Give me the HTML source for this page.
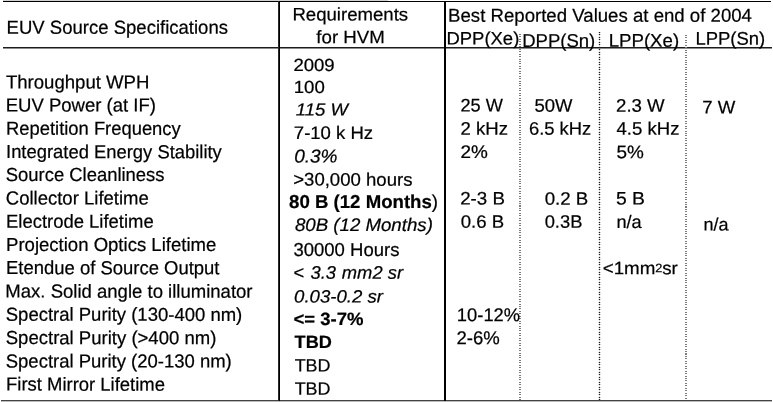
<!DOCTYPE html>
<html><head><meta charset="utf-8"><title>EUV Source Specifications</title>
<style>
html,body{margin:0;padding:0;background:#fff;}
body{width:773px;height:402px;position:relative;overflow:hidden;font-family:"Liberation Sans",sans-serif;color:#000;filter:grayscale(1);}
.t{position:absolute;left:0;top:0;white-space:nowrap;line-height:20px;transform-origin:0 0;-webkit-text-stroke:0.22px #000;}
.sup{font-size:0.68em;position:relative;top:-0.2em;margin:0 -0.02em 0 0;}
.ln{position:absolute;}
</style></head><body>

<div class="ln" style="left:3px;top:0px;width:385px;height:1px;background:#d2d2d2"></div>
<div class="ln" style="left:3px;top:1px;width:768px;height:1px;background:#000"></div>
<div class="ln" style="left:3px;top:47px;width:769px;height:1px;background:#1c1c1c"></div>
<div class="ln" style="left:3px;top:48px;width:769px;height:1px;background:#8c8c8c"></div>
<div class="ln" style="left:1px;top:400px;width:771px;height:1px;background:#444"></div>
<div class="ln" style="left:1px;top:401px;width:771px;height:1px;background:#bbb"></div>
<div class="ln" style="left:278px;top:1px;width:1px;height:400px;background:#2a2a2a"></div>
<div class="ln" style="left:279px;top:1px;width:1px;height:400px;background:#000"></div>
<div class="ln" style="left:444px;top:1px;width:1px;height:400px;background:#000"></div>
<div class="ln" style="left:445px;top:1px;width:1px;height:400px;background:#000"></div>
<div class="ln" style="left:519px;top:34px;width:2px;height:366px;background:repeating-linear-gradient(to bottom,#7a7a7a 0,#7a7a7a 1.0px,rgba(255,255,255,0) 1.0px,rgba(255,255,255,0) 2.45px)"></div>
<div class="ln" style="left:599px;top:32px;width:1px;height:368px;background:rgba(0,0,0,0.13)"></div>
<div class="ln" style="left:599px;top:32px;width:1px;height:368px;background:repeating-linear-gradient(to bottom,#222 0,#222 1.0px,rgba(255,255,255,0) 1.0px,rgba(255,255,255,0) 2.5px)"></div>
<div class="ln" style="left:598px;top:32px;width:3px;height:368px;background:repeating-linear-gradient(to bottom,rgba(0,0,0,0.18) 0,rgba(0,0,0,0.18) 1.0px,rgba(255,255,255,0) 1.0px,rgba(255,255,255,0) 2.5px)"></div>
<div class="ln" style="left:685px;top:34.5px;width:2px;height:365.5px;background:repeating-linear-gradient(to bottom,#7c7c7c 0,#7c7c7c 1.0px,rgba(255,255,255,0) 1.0px,rgba(255,255,255,0) 2.45px)"></div>
<div class="t" id="t0" style="font-size:18.9px;transform:translate(6.63px,17.70px) rotate(0.03deg) scaleX(0.9806)">EUV Source Specifications</div>
<div class="t" id="t1" style="font-size:18.9px;transform:translate(5.95px,72.50px) rotate(0.03deg) scaleX(0.9830)">Throughput WPH</div>
<div class="t" id="t2" style="font-size:18.9px;transform:translate(5.73px,95.50px) rotate(0.03deg) scaleX(0.9804)">EUV Power (at IF)</div>
<div class="t" id="t3" style="font-size:18.9px;transform:translate(6.04px,118.80px) rotate(0.03deg) scaleX(0.9728)">Repetition Frequency</div>
<div class="t" id="t4" style="font-size:18.9px;transform:translate(6.04px,142.10px) rotate(0.03deg) scaleX(0.9739)">Integrated Energy Stability</div>
<div class="t" id="t5" style="font-size:18.9px;transform:translate(5.77px,164.90px) rotate(0.03deg) scaleX(0.9752)">Source Cleanliness</div>
<div class="t" id="t6" style="font-size:18.9px;transform:translate(5.76px,188.50px) rotate(0.03deg) scaleX(0.9806)">Collector Lifetime</div>
<div class="t" id="t7" style="font-size:18.9px;transform:translate(6.04px,211.80px) rotate(0.03deg) scaleX(0.9765)">Electrode Lifetime</div>
<div class="t" id="t8" style="font-size:18.9px;transform:translate(6.03px,234.90px) rotate(0.03deg) scaleX(0.9816)">Projection Optics Lifetime</div>
<div class="t" id="t9" style="font-size:18.9px;transform:translate(6.03px,258.10px) rotate(0.03deg) scaleX(0.9770)">Etendue of Source Output</div>
<div class="t" id="t10" style="font-size:18.9px;transform:translate(5.33px,281.60px) rotate(0.03deg) scaleX(0.9810)">Max. Solid angle to illuminator</div>
<div class="t" id="t11" style="font-size:18.9px;transform:translate(5.77px,304.80px) rotate(0.03deg) scaleX(0.9794)">Spectral Purity (130-400 nm)</div>
<div class="t" id="t12" style="font-size:18.9px;transform:translate(5.76px,328.10px) rotate(0.03deg) scaleX(0.9808)">Spectral Purity (&gt;400 nm)</div>
<div class="t" id="t13" style="font-size:18.9px;transform:translate(5.77px,351.40px) rotate(0.03deg) scaleX(0.9784)">Spectral Purity (20-130 nm)</div>
<div class="t" id="t14" style="font-size:18.9px;transform:translate(6.03px,374.60px) rotate(0.03deg) scaleX(0.9769)">First Mirror Lifetime</div>
<div class="t" id="t15" style="font-size:18.2px;transform:translate(292.42px,4.41px) rotate(0.03deg) scaleX(1.0220)">Requirements</div>
<div class="t" id="t16" style="font-size:18.2px;transform:translate(316.34px,27.31px) rotate(0.03deg) scaleX(1.0277)">for HVM</div>
<div class="t" id="t17" style="font-size:17.6px;transform:translate(293.41px,55.01px) rotate(0.03deg) scaleX(1.0543)">2009</div>
<div class="t" id="t18" style="font-size:17.6px;transform:translate(293.68px,76.91px) rotate(0.03deg) scaleX(1.0582)">100</div>
<div class="t" id="t19" style="font-size:17.4px;font-style:italic;transform:translate(295.73px,99.56px) rotate(0.03deg) scaleX(1.0667)">115 W</div>
<div class="t" id="t20" style="font-size:18.2px;transform:translate(293.84px,122.91px) rotate(0.03deg) scaleX(1.0190)">7-10 k Hz</div>
<div class="t" id="t21" style="font-size:18.7px;font-style:italic;transform:translate(294.14px,146.58px) rotate(0.03deg) scaleX(1.0182)">0.3%</div>
<div class="t" id="t22" style="font-size:18.2px;transform:translate(293.23px,169.61px) rotate(0.03deg) scaleX(1.0208)">&gt;30,000 hours</div>
<div class="t" id="t23" style="font-size:18.7px;transform:translate(289.10px,191.98px) rotate(0.03deg) scaleX(0.9959)"><b>80 B (12 Months</b>)</div>
<div class="t" id="t24" style="font-size:18.2px;font-style:italic;transform:translate(294.89px,214.91px) rotate(0.03deg) scaleX(1.0263)">80B (12 Months)</div>
<div class="t" id="t25" style="font-size:18.7px;transform:translate(293.46px,239.88px) rotate(0.03deg) scaleX(0.9901)">30000 Hours</div>
<div class="t" id="t26" style="font-size:18.2px;font-style:italic;transform:translate(293.19px,262.81px) rotate(0.03deg) scaleX(1.0092)">&lt;<span style='margin-left:0.08em'></span> 3.3<span style='margin-left:0.04em'></span> mm2 sr</div>
<div class="t" id="t27" style="font-size:17.8px;font-style:italic;transform:translate(294.12px,286.38px) rotate(0.03deg) scaleX(1.0459)">0.03-0.2 sr</div>
<div class="t" id="t28" style="font-size:17.8px;font-weight:bold;transform:translate(293.42px,308.88px) rotate(0.03deg) scaleX(1.0424)">&lt;= 3-7%</div>
<div class="t" id="t29" style="font-size:17.8px;font-weight:bold;transform:translate(294.60px,331.98px) rotate(0.03deg) scaleX(1.0194)">TBD</div>
<div class="t" id="t30" style="font-size:17.9px;transform:translate(294.65px,355.57px) rotate(0.03deg) scaleX(1.0043)">TBD</div>
<div class="t" id="t31" style="font-size:17.9px;transform:translate(294.65px,378.77px) rotate(0.03deg) scaleX(1.0043)">TBD</div>
<div class="t" id="t32" style="font-size:18.7px;transform:translate(448.11px,5.68px) rotate(0.03deg) scaleX(0.9959)">Best Reported Values at end of 2004</div>
<div class="t" id="t33" style="font-size:18.1px;transform:translate(446.42px,28.42px) rotate(0.03deg) scaleX(1.0209)">DPP(Xe)</div>
<div class="t" id="t34" style="font-size:18.6px;transform:translate(522.21px,30.98px) rotate(0.03deg) scaleX(0.9951)">DPP(Sn)</div>
<div class="t" id="t35" style="font-size:18.4px;transform:translate(608.68px,30.80px) rotate(0.03deg) scaleX(1.0134)">LPP(Xe)</div>
<div class="t" id="t36" style="font-size:18.4px;transform:translate(695.40px,28.70px) rotate(0.03deg) scaleX(1.0030)">LPP(Sn)</div>
<div class="t" id="t37" style="font-size:18.3px;transform:translate(460.46px,95.51px) rotate(0.03deg) scaleX(0.9929)">25 W</div>
<div class="t" id="t38" style="font-size:18.3px;transform:translate(460.44px,118.81px) rotate(0.03deg) scaleX(1.0166)">2 kHz</div>
<div class="t" id="t39" style="font-size:18.3px;transform:translate(460.42px,142.01px) rotate(0.03deg) scaleX(1.0337)">2%</div>
<div class="t" id="t40" style="font-size:18.3px;transform:translate(534.44px,95.81px) rotate(0.03deg) scaleX(1.0095)">50W</div>
<div class="t" id="t41" style="font-size:18.3px;transform:translate(528.95px,118.81px) rotate(0.03deg) scaleX(1.0050)">6.5 kHz</div>
<div class="t" id="t42" style="font-size:18.3px;transform:translate(616.04px,95.71px) rotate(0.03deg) scaleX(1.0191)">2.3 W</div>
<div class="t" id="t43" style="font-size:18.3px;transform:translate(616.55px,118.81px) rotate(0.03deg) scaleX(1.0148)">4.5 kHz</div>
<div class="t" id="t44" style="font-size:18.3px;transform:translate(616.42px,142.21px) rotate(0.03deg) scaleX(1.0337)">5%</div>
<div class="t" id="t45" style="font-size:18.3px;transform:translate(702.14px,97.41px) rotate(0.03deg) scaleX(1.0173)">7 W</div>
<div class="t" id="t46" style="font-size:18.0px;transform:translate(460.22px,188.52px) rotate(0.03deg) scaleX(1.0386)">2-3 B</div>
<div class="t" id="t47" style="font-size:18.0px;transform:translate(460.68px,211.72px) rotate(0.03deg) scaleX(1.0331)">0.6 B</div>
<div class="t" id="t48" style="font-size:18.0px;transform:translate(544.68px,188.72px) rotate(0.03deg) scaleX(1.0380)">0.2 B</div>
<div class="t" id="t49" style="font-size:18.0px;transform:translate(544.69px,211.72px) rotate(0.03deg) scaleX(1.0182)">0.3B</div>
<div class="t" id="t50" style="font-size:18.0px;transform:translate(615.99px,188.52px) rotate(0.03deg) scaleX(1.0745)">5 B</div>
<div class="t" id="t51" style="font-size:18.0px;transform:translate(616.49px,212.02px) rotate(0.03deg) scaleX(1.0083)">n/a</div>
<div class="t" id="t52" style="font-size:18.0px;transform:translate(703.60px,214.52px) rotate(0.03deg) scaleX(1.0000)">n/a</div>
<div class="t" id="t53" style="font-size:18.0px;transform:translate(602.72px,258.22px) rotate(0.03deg) scaleX(1.0423)">&lt;1mm<span class='sup'>2</span>sr</div>
<div class="t" id="t54" style="font-size:18.7px;transform:translate(456.87px,305.18px) rotate(0.03deg) scaleX(0.9817)">10-12%</div>
<div class="t" id="t55" style="font-size:18.7px;transform:translate(456.46px,328.18px) rotate(0.03deg) scaleX(0.9917)">2-6%</div>
</body></html>
